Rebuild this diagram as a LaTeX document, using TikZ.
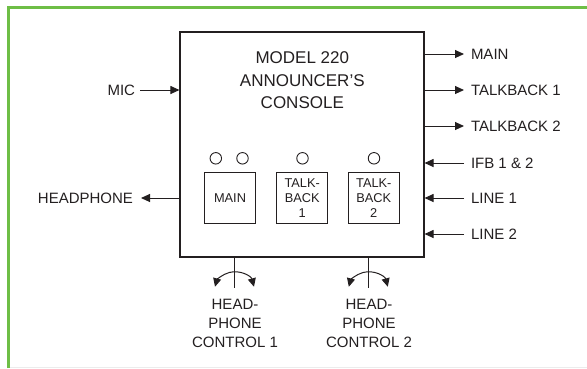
\documentclass[tikz,border=0pt]{standalone}
\usepackage{fontspec}
\setmainfont{Liberation Sans}
\usetikzlibrary{arrows.meta}
\definecolor{framegreen}{RGB}{110,190,70}
\definecolor{ink}{RGB}{35,31,32}
\tikzset{
  arr/.style={draw=ink, line width=1pt, -{Triangle[length=9pt,width=8pt]}},
  dblarr/.style={draw=ink, line width=1pt, {Triangle[length=8.5pt,width=8pt]}-{Triangle[length=8.5pt,width=8pt]}},
  lbl/.style={font=\fontsize{15}{18}\selectfont, text=ink, inner sep=0pt, text height=10.7pt, text depth=0pt, outer xsep=7pt},
  title/.style={font=\fontsize{17}{20}\selectfont, text=ink, inner sep=0pt, anchor=base},
  lamp/.style={circle, draw=ink, line width=0.9pt, minimum size=11.5pt, inner sep=0pt},
  keybox/.style={draw=ink, line width=1pt, minimum width=51pt, minimum height=50.5pt, inner sep=0pt, align=center, text=ink, font=\fontsize{12.8}{15}\selectfont},
  ctl/.style={font=\fontsize{15}{19}\selectfont, text=ink, inner sep=0pt, align=center, anchor=north}
}
\begin{document}
\begin{tikzpicture}[x=1pt,y=1pt]
\useasboundingbox (0,0) rectangle (587,-368);
% frame
\draw[gray!15, line width=0.8pt] (8,-367) -- (587,-367);
\draw[framegreen, line width=3pt] (8.5,-368) -- (8.5,-7.5) -- (587,-7.5);
% console
\node[draw=ink, line width=1.1pt, minimum width=244pt, minimum height=225pt, inner sep=0pt] (console) at (302,-144.5) {};
\node[title] (t1) at (302.3,-63.3) {MODEL 220};
\node[title] (t2) at (302.3,-86) {ANNOUNCER'S};
\node[title] (t3) at (302.3,-108.5) {CONSOLE};
% lamps
\node[lamp] (c1) at (215.8,-158.3) {};
\node[lamp] (c2) at (242.5,-158.3) {};
\node[lamp] (c3) at (302.5,-158.3) {};
\node[lamp] (c4) at (374,-158.3) {};
% key boxes
\node[keybox] (kmain) at (230,-197.75) {MAIN};
\node[keybox] (ktb1) at (302.2,-197.75) {TALK-\\BACK\\1};
\node[keybox] (ktb2) at (373.8,-197.75) {TALK-\\BACK\\2};
% right labels
\node[lbl, anchor=west] (lmain) at (464,-54) {MAIN};
\node[lbl, anchor=west] (ltb1) at (464,-90) {TALKBACK 1};
\node[lbl, anchor=west] (ltb2) at (464,-126) {TALKBACK 2};
\node[lbl, anchor=west] (lifb) at (464,-163) {IFB 1 \& 2};
\node[lbl, anchor=west] (ll1) at (464,-198) {LINE 1};
\node[lbl, anchor=west] (ll2) at (464,-234) {LINE 2};
% left labels
\node[lbl, anchor=east, outer xsep=5pt] (lmic) at (140,-90) {MIC};
\node[lbl, anchor=east, outer xsep=8pt] (lhp) at (141,-198) {HEADPHONE};
% arrows
\draw[arr] (console.east |- lmain.west) -- (lmain.west);
\draw[arr] (console.east |- ltb1.west) -- (ltb1.west);
\draw[arr] (console.east |- ltb2.west) -- (ltb2.west);
\draw[arr] (lifb.west) -- (console.east |- lifb.west);
\draw[arr] (ll1.west) -- (console.east |- ll1.west);
\draw[arr] (ll2.west) -- (console.east |- ll2.west);
\draw[arr] (lmic.east) -- (console.west |- lmic.east);
\draw[arr] (console.west |- lhp.east) -- (lhp.east);
% headphone controls
\coordinate (k1) at (234.5,-288);
\coordinate (k2) at (368.3,-288);
\coordinate (a1) at (234.5,-292);
\coordinate (a2) at (368.3,-292);
\draw[draw=ink, line width=1pt] (console.south -| k1) -- (k1);
\draw[draw=ink, line width=1pt] (console.south -| k2) -- (k2);
\draw[dblarr] ([shift={(15:20.2)}]a1) arc[start angle=15, end angle=165, radius=20.2];
\draw[dblarr] ([shift={(15:20.2)}]a2) arc[start angle=15, end angle=165, radius=20.2];
\node[ctl] (hc1) at (235,-299.3) {HEAD-\\PHONE\\CONTROL 1};
\node[ctl] (hc2) at (369,-299.3) {HEAD-\\PHONE\\CONTROL 2};
\end{tikzpicture}
\end{document}
